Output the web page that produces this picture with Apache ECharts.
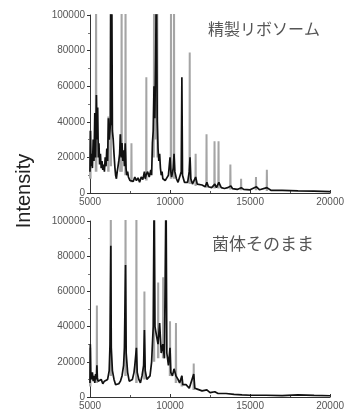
<!DOCTYPE html>
<html>
<head>
<meta charset="utf-8">
<script src="https://cdn.jsdelivr.net/npm/echarts@6/dist/echarts.min.js"></script>
<style>
  html, body { margin: 0; padding: 0; background: #fff; }
  #chart { width: 347px; height: 417px; }
</style>
</head>
<body>
<div id="chart"></div>
<script>
// m/z range and intensity ticks
var xTicks = [5000, 10000, 15000, 20000]
var yTicks = [0, 20000, 40000, 60000, 80000, 100000]
var panelTitles = ['精製リボソーム', '菌体そのまま']

// 上段: 精製リボソーム (黒 = 主スペクトル)
var topBlack = [
  [5000, 12000], [5030, 35000], [5060, 15000], [5100, 22000], [5150, 14000], [5200, 30000],
  [5250, 18000], [5300, 45000], [5350, 20000], [5400, 55000], [5440, 30000], [5480, 48000],
  [5520, 20000], [5560, 28000], [5600, 16000], [5650, 22000], [5700, 14000], [5750, 18000],
  [5800, 13000], [5850, 16000], [5900, 12000], [5950, 20000], [6000, 15000], [6050, 25000],
  [6100, 18000], [6150, 42000], [6200, 30000], [6270, 38000], [6300, 120000], [6330, 38000],
  [6360, 120000], [6400, 35000], [6450, 30000], [6500, 22000], [6550, 15000], [6600, 10000],
  [6650, 8000], [6700, 12000], [6750, 15000], [6800, 18000], [6850, 22000], [6900, 33000],
  [6950, 20000], [7000, 28000], [7050, 18000], [7100, 24000], [7150, 15000], [7200, 28000],
  [7250, 14000], [7300, 10000], [7350, 12000], [7400, 9000], [7450, 8000], [7500, 7000],
  [7600, 8000], [7700, 6500], [7800, 9000], [7900, 7000], [8000, 8500], [8100, 6000],
  [8200, 9000], [8300, 7500], [8400, 12000], [8450, 8000], [8500, 10000], [8600, 12000],
  [8700, 9000], [8800, 13000], [8850, 10000], [8900, 28000], [8950, 35000], [9000, 60000],
  [9050, 42000], [9100, 75000], [9150, 120000], [9200, 40000], [9250, 25000], [9300, 18000],
  [9350, 22000], [9400, 14000], [9450, 10000], [9500, 12000], [9550, 8000], [9600, 9000],
  [9700, 7000], [9800, 8500], [9900, 10000], [10000, 20000], [10050, 12000], [10100, 9000],
  [10200, 14000], [10250, 22000], [10300, 12000], [10400, 8000], [10500, 6000], [10600, 7000],
  [10700, 12000], [10740, 65000], [10780, 10000], [10900, 6000], [11000, 5000], [11100, 6000],
  [11200, 12000], [11250, 20000], [11300, 8000], [11400, 5000], [11500, 7000], [11600, 9000],
  [11700, 5000], [11800, 4000], [12000, 4500], [12200, 3500], [12300, 6000], [12400, 3500],
  [12600, 3000], [12800, 5000], [12900, 3000], [13050, 6000], [13200, 3000], [13400, 2500],
  [13600, 3000], [13800, 4000], [13900, 2500], [14200, 2000], [14450, 3000], [14600, 2000],
  [15000, 1800], [15400, 3500], [15600, 1800], [16050, 3000], [16300, 1500], [17000, 1500],
  [18000, 1200], [19000, 1000], [20000, 800]
]
// 上段の灰色スペクトル: ピークごとの [m/z, 強度] 点
var topGrayPeaks = [
  [[5005, 8000], [5020, 35000], [5040, 8000]],
  [[5360, 12000], [5380, 120000], [5400, 12000]],
  [[6135, 12000], [6150, 43000], [6165, 12000]],
  [[6285, 15000], [6300, 120000], [6315, 15000]],
  [[6885, 12000], [6900, 33000], [6915, 12000]],
  [[6960, 12000], [6975, 120000], [6990, 12000]],
  [[7205, 10000], [7220, 120000], [7235, 10000]],
  [[7575, 6000], [7590, 28000], [7605, 6000]],
  [[8505, 7000], [8520, 65000], [8535, 7000]],
  [[8985, 20000], [9000, 120000], [9020, 30000], [9100, 120000], [9120, 30000], [9200, 120000], [9215, 20000]],
  [[10045, 8000], [10060, 120000], [10075, 8000]],
  [[10235, 8000], [10250, 120000], [10265, 8000]],
  [[11215, 5000], [11230, 79000], [11245, 5000]],
  [[11585, 4000], [11600, 22000], [11615, 4000]],
  [[12265, 3000], [12280, 33000], [12295, 3000]],
  [[12765, 2500], [12780, 29000], [12795, 2500]],
  [[13015, 2500], [13030, 29000], [13045, 2500]],
  [[13755, 2000], [13770, 16000], [13785, 2000]],
  [[14425, 1500], [14440, 8000], [14455, 1500]],
  [[15355, 1500], [15370, 9000], [15385, 1500]],
  [[16035, 1200], [16050, 13000], [16065, 1200]]
]

// 下段: 菌体そのまま
var bottomBlack = [
  [5000, 8000], [5020, 30000], [5050, 12000], [5100, 10000], [5150, 14000], [5200, 9000],
  [5250, 12000], [5300, 8000], [5350, 13000], [5400, 10000], [5430, 18000], [5460, 11000],
  [5500, 9000], [5600, 8000], [5700, 10000], [5800, 7500], [5900, 9000], [6000, 8000],
  [6100, 10000], [6200, 15000], [6250, 30000], [6300, 86000], [6330, 28000], [6400, 15000],
  [6500, 10000], [6600, 7000], [6700, 8000], [6800, 7500], [6900, 9000], [7000, 12000],
  [7100, 18000], [7150, 28000], [7220, 75000], [7260, 25000], [7350, 14000], [7450, 9000],
  [7550, 8000], [7650, 10000], [7750, 14000], [7800, 18000], [7900, 28000], [7950, 14000],
  [8050, 10000], [8150, 8000], [8250, 12000], [8350, 18000], [8400, 38000], [8450, 15000],
  [8550, 10000], [8650, 9000], [8750, 12000], [8850, 20000], [8950, 40000], [9010, 120000],
  [9060, 40000], [9150, 35000], [9250, 30000], [9350, 42000], [9450, 25000], [9550, 30000],
  [9650, 22000], [9750, 120000], [9800, 25000], [9900, 18000], [10000, 28000], [10050, 14000],
  [10150, 12000], [10250, 16000], [10370, 12000], [10500, 10000], [10600, 8000], [10740, 12000],
  [10800, 7000], [10900, 6000], [11000, 7000], [11200, 5000], [11480, 13000], [11550, 5000],
  [11700, 4500], [12000, 3500], [12300, 4000], [12500, 2500], [12800, 3000], [13000, 2000],
  [13500, 2000], [14000, 1500], [14500, 1200], [15000, 1000], [16000, 1000], [17000, 800],
  [18000, 1200], [19000, 900], [20000, 700]
]
var bottomGrayPeaks = [
  [[5005, 6000], [5015, 28000], [5030, 6000]],
  [[5415, 8000], [5430, 52000], [5445, 8000]],
  [[6285, 12000], [6300, 120000], [6315, 12000]],
  [[7205, 12000], [7220, 120000], [7235, 12000]],
  [[7885, 8000], [7900, 120000], [7915, 8000]],
  [[8385, 10000], [8400, 60000], [8415, 10000]],
  [[8985, 20000], [9000, 43000], [9015, 20000]],
  [[9245, 22000], [9260, 65000], [9275, 22000]],
  [[9555, 22000], [9570, 68000], [9585, 22000]],
  [[9985, 12000], [10000, 43000], [10015, 12000]],
  [[10355, 8000], [10370, 42000], [10385, 8000]],
  [[10725, 6000], [10740, 12000], [10755, 6000]],
  [[11465, 4000], [11480, 19000], [11495, 4000]]
]

var chart = echarts.init(document.getElementById('chart'))

function xAxisFor(i) {
  return {
    type: 'value',
    gridIndex: i,
    min: xTicks[0],
    max: xTicks[xTicks.length - 1],
    interval: 5000,
    axisLine: { lineStyle: { color: '#333', width: 1 } },
    axisTick: { show: true, inside: true, length: 3, lineStyle: { color: '#333' } },
    minorTick: { show: true, splitNumber: 2, length: 2, lineStyle: { color: '#555' } },
    splitLine: { show: false },
    axisLabel: {
      color: '#555', fontSize: 10, margin: 4, fontFamily: 'Liberation Sans',
      formatter: function (v) { return String(v) },
    },
  }
}
function yAxisFor(i) {
  return {
    type: 'value',
    gridIndex: i,
    min: yTicks[0],
    max: yTicks[yTicks.length - 1],
    interval: 20000,
    axisLine: { show: true, lineStyle: { color: '#333', width: 1 } },
    axisTick: { show: true, length: 3, lineStyle: { color: '#333' } },
    minorTick: { show: true, splitNumber: 2, length: 2, lineStyle: { color: '#777' } },
    splitLine: { show: false },
    axisLabel: {
      color: '#555', fontSize: 10, margin: 5, fontFamily: 'Liberation Sans',
      formatter: function (v) { return String(v) },
    },
  }
}
function trace(data, i, color, width, z) {
  return {
    type: 'line',
    xAxisIndex: i,
    yAxisIndex: i,
    data: data,
    showSymbol: false,
    symbol: 'none',
    clip: true,
    z: z,
    silent: true,
    animation: false,
    lineStyle: { color: color, width: width },
  }
}

// 灰色ピークは一本ずつ別シリーズで描く
var series = []
topGrayPeaks.forEach(function (p) { series.push(trace(p, 0, '#a5a5a5', 2, 2)) })
bottomGrayPeaks.forEach(function (p) { series.push(trace(p, 1, '#a5a5a5', 2, 2)) })
series.push(trace(topBlack, 0, '#111', 1.7, 3))
series.push(trace(bottomBlack, 1, '#111', 1.7, 3))

var option = {
  animation: false,
  grid: [
    { left: 90, right: 14, top: 15, height: 178 },
    { left: 90, right: 14, top: 221, height: 176 },
  ],
  xAxis: [xAxisFor(0), xAxisFor(1)],
  yAxis: [yAxisFor(0), yAxisFor(1)],
  series: series,
  graphic: [
    {
      type: 'text', x: 24, y: 191, rotation: Math.PI / 2,
      style: { text: 'Intensity', fill: '#222', font: '20px "Liberation Sans"', align: 'center', verticalAlign: 'middle' },
    },
    {
      type: 'text', x: 264, y: 29,
      style: { text: panelTitles[0], fill: '#555', font: '16px "Noto Sans CJK JP"', align: 'center', verticalAlign: 'middle' },
    },
    {
      type: 'text', x: 263, y: 244,
      style: { text: panelTitles[1], fill: '#555', font: '17px "Noto Sans CJK JP"', align: 'center', verticalAlign: 'middle' },
    },
  ],
}
chart.setOption(option)
</script>
</body>
</html>
